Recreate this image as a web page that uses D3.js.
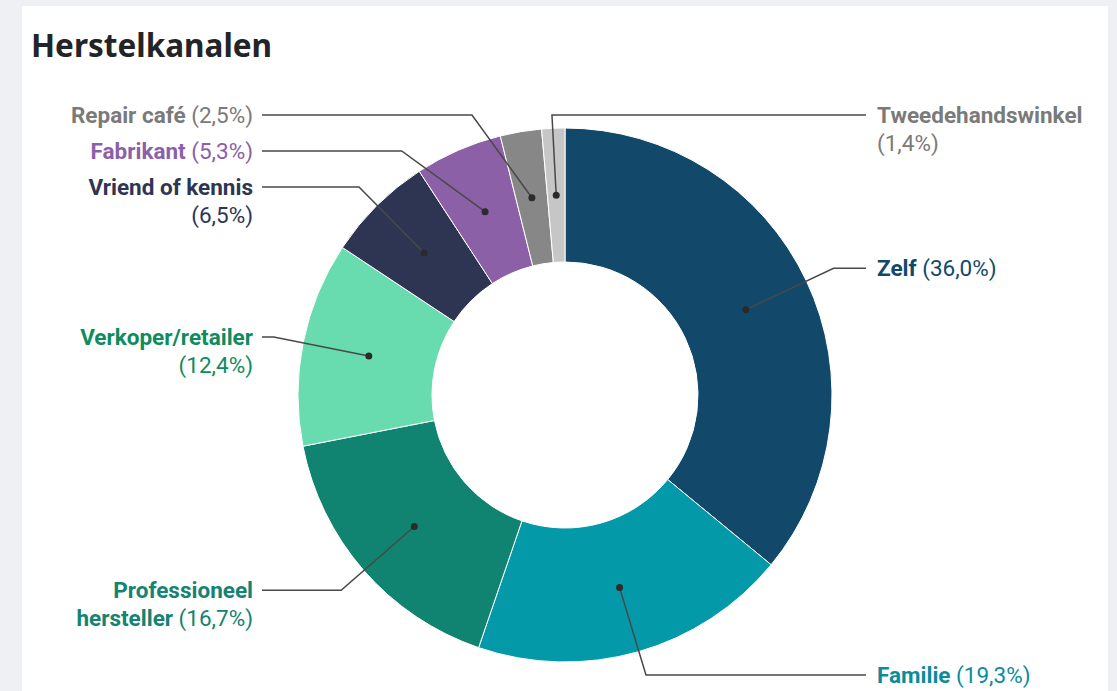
<!DOCTYPE html>
<html lang="nl">
<head>
<meta charset="UTF-8"/>
<title>Herstelkanalen</title>
<script src="https://d3js.org/d3.v7.min.js"></script>
<style>
    html, body { margin: 0; padding: 0; }
    body { background: #eef0f4; width: 1117px; height: 691px; overflow: hidden; }
    .card { position: absolute; left: 22px; top: 6px; width: 1086px; height: 700px; background: #fff; }
    svg { position: absolute; left: 0; top: 0; }
    .title { font-family: "Noto Sans", sans-serif; font-weight: 700; font-size: 31.5px; fill: #222428; }
    .lbl { font-family: Roboto, sans-serif; font-size: 22.5px; }
    .lbl .name { font-weight: 700; }
    .leader { fill: none; stroke: #484848; stroke-width: 1.5px; }
</style>
</head>
<body>
<div class="card"></div>
<script>
    // data
    var categories = ["Zelf", "Familie", "Professioneel hersteller", "Verkoper/retailer",
        "Vriend of kennis", "Fabrikant", "Repair café", "Tweedehandswinkel"];
    var values = [36.0, 19.3, 16.7, 12.4, 6.5, 5.3, 2.5, 1.4];
    var sliceColors = ["#12496a", "#0399a8", "#108470", "#69dcaf", "#2e3553", "#8c60a6", "#878787", "#c6c6c6"];
    var textColors = ["#12496a", "#0b8c9b", "#148370", "#0e8c5e", "#2e3553", "#8c60a6", "#7a7a7a", "#7a7a7a"];
    // how each label wraps; an empty line means the percentage goes on its own line
    var labelLines = [
        ["Zelf"], ["Familie"], ["Professioneel", "hersteller"], ["Verkoper/retailer", ""],
        ["Vriend of kennis", ""], ["Fabrikant"], ["Repair café"], ["Tweedehandswinkel", ""]
    ];

    var W = 1117, H = 691;
    var cx = 565, cy = 395, R = 267, r0 = 133;
    var elbowR = 297, lineH = 28;

    var svg = d3.select("body").append("svg").attr("width", W).attr("height", H);

    svg.append("text").attr("class", "title").attr("x", 31).attr("y", 57).text("Herstelkanalen");

    var pie = d3.pie().sort(null).value(function(d) { return d.v; });
    var arc = d3.arc().innerRadius(r0).outerRadius(R);
    var arcs = pie(values.map(function(v, i) { return { v: v, i: i }; }));

    var g = svg.append("g").attr("transform", "translate(" + cx + "," + cy + ")");

    g.selectAll("path.slice").data(arcs).enter().append("path")
        .attr("class", "slice")
        .attr("d", arc)
        .attr("fill", function(d) { return sliceColors[d.data.i]; })
        .attr("stroke", "#fff")
        .attr("stroke-width", 1);

    // label layout
    var fmt = function(v) { return "(" + d3.format(".1f")(v).replace(".", ",") + "%)"; };
    var items = arcs.map(function(d) {
        var a = (d.startAngle + d.endAngle) / 2;
        var dot = [200 * Math.sin(a), -200 * Math.cos(a)];
        var ex = elbowR * Math.sin(a), ey = -elbowR * Math.cos(a);
        var right = ex > -15;
        return { d: d, a: a, dot: dot, ex: ex, ey: ey, ny: ey, right: right,
            lines: labelLines[d.data.i].length };
    });

    // push labels apart on each side, top to bottom, inside the frame
    [true, false].forEach(function(side) {
        var list = items.filter(function(o) { return o.right === side; })
            .sort(function(p, q) { return p.ey - q.ey; });
        var minY = -280;
        list.forEach(function(o) {
            if (o.ey < minY) o.ey = minY;
            if (o.ey > 280) o.ey = 280;
            minY = o.ey + 36 + (o.lines - 1) * lineH;
        });
    });

    items.forEach(function(o) {
        // moved left labels: elbow slides along the elbow circle
        if (!o.right && Math.abs(o.ey - o.ny) > 0.5) {
            var dx = Math.sqrt(Math.max(0, elbowR * elbowR - o.ey * o.ey));
            o.ex = -dx + 6;
        }
        var endX = o.right ? 301 : -303;
        g.append("path").attr("class", "leader")
            .attr("d", d3.line()([o.dot, [o.ex, o.ey], [endX, o.ey]]));
        g.append("circle").attr("cx", o.dot[0]).attr("cy", o.dot[1]).attr("r", 3.5).attr("fill", "#2b2b2b");

        var i = o.d.data.i;
        var tx = o.right ? 312 : -312;
        var t = g.append("text").attr("class", "lbl")
            .attr("x", tx)
            .attr("y", o.ey + 7.5)
            .attr("text-anchor", o.right ? "start" : "end")
            .attr("fill", textColors[i]);
        var ls = labelLines[i];
        ls.forEach(function(s, k) {
            var last = k === ls.length - 1;
            if (s) {
                var ts = t.append("tspan").attr("class", "name").text(s);
                if (k > 0) ts.attr("x", tx).attr("dy", lineH);
                if (last) t.append("tspan").text(" " + fmt(values[i]));
            } else {
                t.append("tspan").attr("x", tx).attr("dy", lineH).text(fmt(values[i]));
            }
        });
    });
</script>
</body>
</html>
